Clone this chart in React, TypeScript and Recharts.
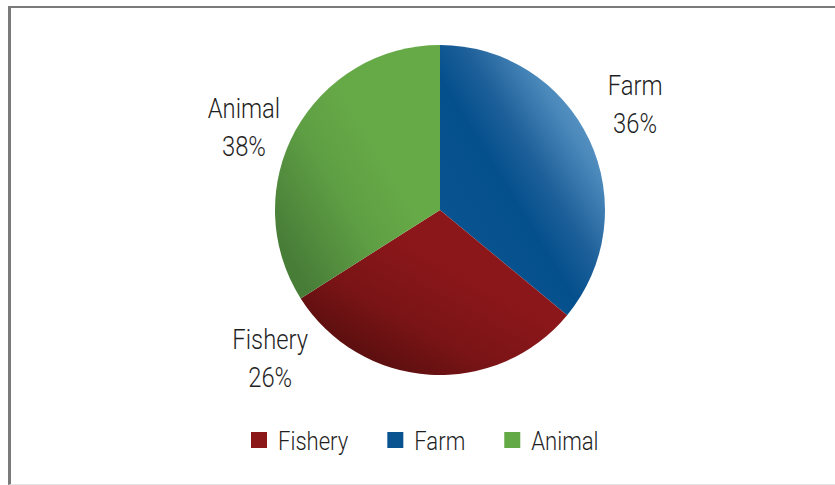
import React from 'react';
import { PieChart, Pie, Cell, Legend } from 'recharts';

// ---- data ----
const categories = ['Farm', 'Fishery', 'Animal'];
const sliceValues = [36, 30, 34]; // sizes of the slices as drawn
const percentLabels = ['36%', '26%', '38%']; // label texts as printed
const legendOrder = ['Fishery', 'Farm', 'Animal'];

const data = categories.map((name, i) => ({ name, value: sliceValues[i], pct: percentLabels[i] }));

// ---- styles ----
const SOLID: Record<string, string> = { Farm: '#0a5391', Fishery: '#8b1719', Animal: '#63a946' };
const GRAD: Record<string, string> = { Farm: 'url(#gFarm)', Fishery: 'url(#gFishery)', Animal: 'url(#gAnimal)' };
const LABEL_PLACE: Record<string, { angle: number; gap: number }> = {
  Farm: { angle: 61.5, gap: 57 },
  Fishery: { angle: 229, gap: 60 },
  Animal: { angle: 293, gap: 48 },
};
const FONT = 'Roboto, "Noto Sans", sans-serif';
const TEXT_COLOR = '#1f1f1f';
const SQUEEZE = 0.85;

const measure = (text: string, font: string) => {
  const ctx = document.createElement('canvas').getContext('2d');
  if (!ctx) return text.length * 12;
  ctx.font = font;
  return ctx.measureText(text).width;
};

const renderLabel = (props: any) => {
  const { cx, cy, outerRadius, name, payload } = props;
  const place = LABEL_PLACE[name];
  if (!place) return null;
  const r = outerRadius + place.gap;
  const a = (place.angle * Math.PI) / 180;
  const x = cx + r * Math.sin(a);
  const y = cy - r * Math.cos(a);
  const pct = payload?.pct ?? props.pct;
  return (
    <g transform={`translate(${x},${y}) scale(${SQUEEZE},1)`}>
      <text x={0} y={-9} textAnchor="middle" fontSize={28} fontFamily={FONT} fontWeight={300} fill={TEXT_COLOR}>
        {name}
      </text>
      <text x={0} y={29} textAnchor="middle" fontSize={28} fontFamily={FONT} fontWeight={300} fill={TEXT_COLOR}>
        {pct}
      </text>
    </g>
  );
};

const renderLegend = () => {
  const font = `300 26px Roboto`;
  const sq = 16;
  const gapText = 11;
  const gapItem = 39;
  let x = 0;
  const items = legendOrder.map((name) => {
    const w = measure(name, font) * SQUEEZE;
    const item = { name, x, w };
    x += sq + gapText + w + gapItem;
    return item;
  });
  const total = x - gapItem;
  return (
    <div style={{ width: '100%', display: 'flex', justifyContent: 'center' }}>
      <svg width={total} height={30} style={{ overflow: 'visible' }}>
        {items.map((it) => (
          <g key={it.name}>
            <rect x={it.x} y={4} width={sq} height={sq} fill={SOLID[it.name]} />
            <g transform={`translate(${it.x + sq + gapText},22) scale(${SQUEEZE},1)`}>
              <text x={0} y={0} fontSize={26} fontFamily={FONT} fontWeight={300} fill={TEXT_COLOR}>
                {it.name}
              </text>
            </g>
          </g>
        ))}
      </svg>
    </div>
  );
};

export default function App() {
  return (
    <div
      style={{
        position: 'absolute',
        left: 8,
        top: 6,
        width: 827,
        height: 479,
        boxSizing: 'border-box',
        borderTop: '2px solid #7a7a7a',
        borderLeft: '3px solid #7a7a7a',
        borderBottom: '1px solid #e4e4e4',
        background: '#ffffff',
      }}
    >
      <PieChart width={824} height={476} margin={{ top: 0, right: 0, bottom: 0, left: 0 }}>
        <defs>
          <linearGradient id="gFarm" x1="0.95" y1="0.05" x2="0.1" y2="0.9">
            <stop offset="0" stopColor="#74aad4" />
            <stop offset="0.25" stopColor="#4b89bb" />
            <stop offset="0.45" stopColor="#1d5f99" />
            <stop offset="0.6" stopColor="#04508d" />
            <stop offset="1" stopColor="#0a5592" />
          </linearGradient>
          <linearGradient id="gFishery" x1="0.05" y1="0.95" x2="0.6" y2="0.35">
            <stop offset="0" stopColor="#4a0b0b" />
            <stop offset="0.55" stopColor="#7a1416" />
            <stop offset="1" stopColor="#8c171a" />
          </linearGradient>
          <linearGradient id="gAnimal" x1="0.1" y1="0.85" x2="0.6" y2="0.4">
            <stop offset="0" stopColor="#487d38" />
            <stop offset="0.6" stopColor="#5f9f44" />
            <stop offset="1" stopColor="#66a947" />
          </linearGradient>
        </defs>
        <Pie
          data={data}
          dataKey="value"
          nameKey="name"
          cx={429}
          cy={202}
          outerRadius={165}
          startAngle={90}
          endAngle={-270}
          stroke="none"
          label={renderLabel}
          labelLine={false}
          isAnimationActive={false}
        >
          {data.map((d) => (
            <Cell key={d.name} fill={GRAD[d.name]} />
          ))}
        </Pie>
        <Legend
          verticalAlign="bottom"
          content={renderLegend}
          wrapperStyle={{ top: 420, bottom: 'auto', left: 0, width: 828 }}
        />
      </PieChart>
    </div>
  );
}
